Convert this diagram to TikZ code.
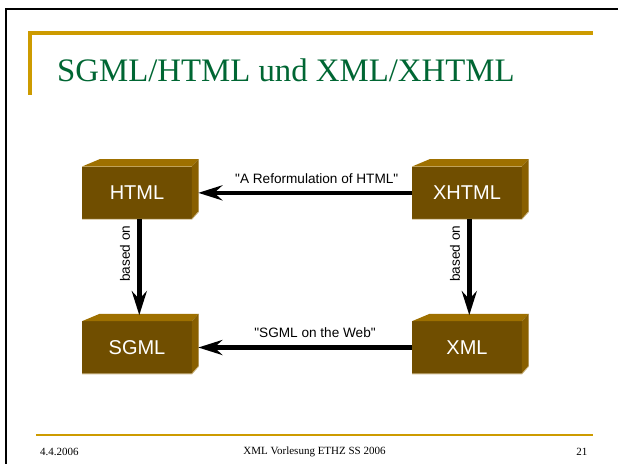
\documentclass[tikz,border=0pt]{standalone}
\usepackage{fontspec}
\setmainfont{Liberation Serif}
\newfontfamily\boxfont{Liberation Sans}
\usetikzlibrary{arrows.meta}

\definecolor{gold}{RGB}{205,155,0}
\definecolor{titlegreen}{RGB}{0,102,51}
\definecolor{cubefront}{RGB}{112,78,0}
\definecolor{cubetop}{RGB}{158,112,0}
\definecolor{cubeside}{RGB}{136,95,0}
\definecolor{cubeedge}{RGB}{205,185,140}

\tikzset{
  cube/.style={rectangle, fill=cubefront, inner sep=0pt,
    minimum width=109.4pt, minimum height=52.3pt,
    text=white, font=\boxfont\fontsize{20}{24}\selectfont},
  relation/.style={line width=4.5pt,
    -{Stealth[length=24pt,width=15pt,inset=8pt]}},
  edgelabel/.style={font=\boxfont\fontsize{13.6}{16}\selectfont,
    text=black, inner sep=0pt},
}

% top and right faces of a cube drawn round its front face
\newcommand\cubefaces[1]{%
  \fill[cubetop] (#1.north west) -- ++(17.7,-7.4)
    -- ([shift={(6.6,-7.4)}]#1.north east) -- (#1.north east) -- cycle;
  \fill[cubeside] (#1.north east) -- ([shift={(6.6,-7.4)}]#1.north east)
    -- ([shift={(6.6,-7.4)}]#1.south east) -- (#1.south east) -- cycle;
  \draw[cubeedge, line width=0.8pt] (#1.south west) -- (#1.south east)
    -- ([shift={(6.6,-7.4)}]#1.south east);
}

\begin{document}
\begin{tikzpicture}[x=1pt, y=-1pt]
\useasboundingbox (0,0) rectangle (618,464);

% slide frame
\fill[black] (4.5,8) rectangle (618,10.4);
\fill[black] (4.5,8) rectangle (6.7,464);

% title bar and title
\fill[gold] (28,31) rectangle (593,35);
\fill[gold] (28,31) rectangle (32,95);
\node[anchor=base west, inner sep=0pt, text=titlegreen,
  font=\fontsize{32.8}{36}\selectfont] (title) at (57,81.7)
  {SGML/HTML und XML/XHTML};

% footer
\fill[gold] (36,434) rectangle (593,436.4);
\node[anchor=west, inner sep=0pt, font=\fontsize{11}{13}\selectfont] (date)
  at (40,452) {4.4.2006};
\node[inner sep=0pt, font=\fontsize{11}{13}\selectfont] (course)
  at (314.5,452) {XML Vorlesung ETHZ SS 2006};
\node[anchor=east, inner sep=0pt, font=\fontsize{11}{13}\selectfont] (page)
  at (587.5,452) {21};

% cubes
\node[cube] (html)  at (137,192.85) {HTML};
\node[cube] (xhtml) at (467,192.85) {XHTML};
\node[cube] (sgml)  at (137,347.5)  {SGML};
\node[cube] (xml)   at (467,347.5)  {XML};
\cubefaces{html}
\cubefaces{xhtml}
\cubefaces{sgml}
\cubefaces{xml}

% relations
\draw[relation] (xhtml.west) -- ([xshift=6.4pt]html.east)
  node[edgelabel, pos=0.446, yshift=14.4pt] {"A Reformulation of HTML"};
\draw[relation] (xml.west) -- ([xshift=6.4pt]sgml.east)
  node[edgelabel, pos=0.454, yshift=15pt] {"SGML on the Web"};
\draw[relation] ([xshift=2.3pt]html.south) -- ([xshift=2.3pt,yshift=6pt]sgml.north)
  node[edgelabel, pos=0.36, xshift=-14.3pt, rotate=90] {based on};
\draw[relation] ([xshift=2.3pt]xhtml.south) -- ([xshift=2.3pt,yshift=6pt]xml.north)
  node[edgelabel, pos=0.36, xshift=-14.3pt, rotate=90] {based on};
\end{tikzpicture}
\end{document}
